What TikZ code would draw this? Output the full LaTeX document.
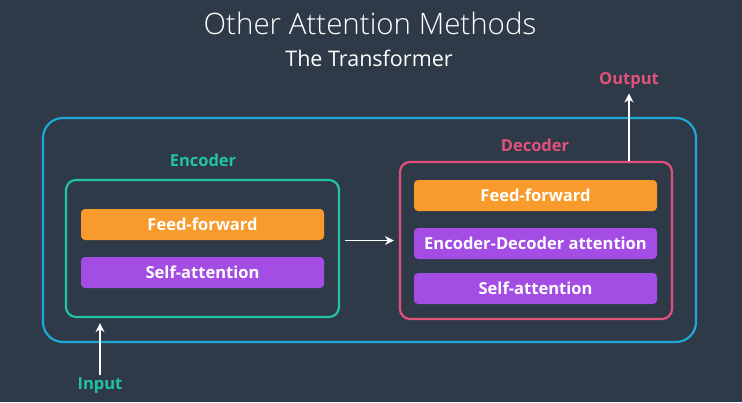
\documentclass[tikz,border=0pt]{standalone}
\usepackage{fontspec}
\setmainfont{Open Sans}
\IfFontExistsTF{Open Sans Light}{\newfontfamily\titlefont{Open Sans Light}}{\newfontfamily\titlefont{Open Sans}}
\newcommand\labelfont{\bfseries}
\usetikzlibrary{arrows.meta,positioning}
\definecolor{bgslate}{HTML}{2E3A47}
\definecolor{outercyan}{HTML}{1FA8D6}
\definecolor{encteal}{HTML}{22C2A6}
\definecolor{decpink}{HTML}{E0527B}
\definecolor{ffamber}{HTML}{F99B2C}
\definecolor{attviolet}{HTML}{A44DE5}

\begin{document}
\begin{tikzpicture}[x=1pt,y=-1pt]
\tikzset{
  framebox/.style={draw,rounded corners=10pt,line width=2.2pt,minimum width=#1,inner sep=0pt},
  layerbar/.style={fill=#1,rounded corners=4pt,minimum width=243pt,minimum height=31pt,inner sep=0pt,text=white,font=\labelfont\fontsize{16.5}{19}\selectfont},
  caption/.style={font=\labelfont\fontsize{16.5}{19}\selectfont},
  flow/.style={draw=white,line width=1.6pt,-{Stealth[length=9pt,width=9pt]}}
}
\fill[bgslate] (0,0) rectangle (742,402);
\useasboundingbox (0,0) rectangle (742,402);
% titles
\node[text=white,font=\titlefont\fontsize{29.5}{34}\selectfont] (title) at (370,23) {Other Attention Methods};
\node[text=white,font=\fontsize{21.5}{25}\selectfont] (subtitle) at (369,58) {The Transformer};
% boxes
\node[framebox=653pt,draw=outercyan,rounded corners=20pt,minimum height=224pt] (outer) at (369.5,230) {};
\node[framebox=273pt,draw=encteal,minimum height=137pt] (enc) at (202.5,248.5) {};
\node[framebox=272pt,draw=decpink,minimum height=157pt] (dec) at (536,240.5) {};
\node[caption,text=encteal] (enclabel) at (203,160) {Encoder};
\node[caption,text=decpink] (declabel) at (535,145) {Decoder};
% layers
\node[layerbar=ffamber] (encff) at (202.5,224.5) {Feed-forward};
\node[layerbar=attviolet] (encsa) at (202.5,272.5) {Self-attention};
\node[layerbar=ffamber] (decff) at (535.5,195.5) {Feed-forward};
\node[layerbar=attviolet] (decea) at (535.5,243.5) {Encoder-Decoder attention};
\node[layerbar=attviolet] (decsa) at (535.5,288.5) {Self-attention};
% in / out
\node[caption,text=encteal] (inp) at (100,386) {Input};
\node[caption,text=decpink] (outp) at (629,80) {Output};
\draw[flow,shorten >=5pt] (inp.north) -- (enc.south -| inp.north);
\draw[flow,shorten <=5pt,shorten >=5pt] (enc.east |- dec.west) -- (dec.west);
\draw[flow,shorten >=2pt] (dec.north -| outp.south) -- (outp.south);
\end{tikzpicture}
\end{document}
